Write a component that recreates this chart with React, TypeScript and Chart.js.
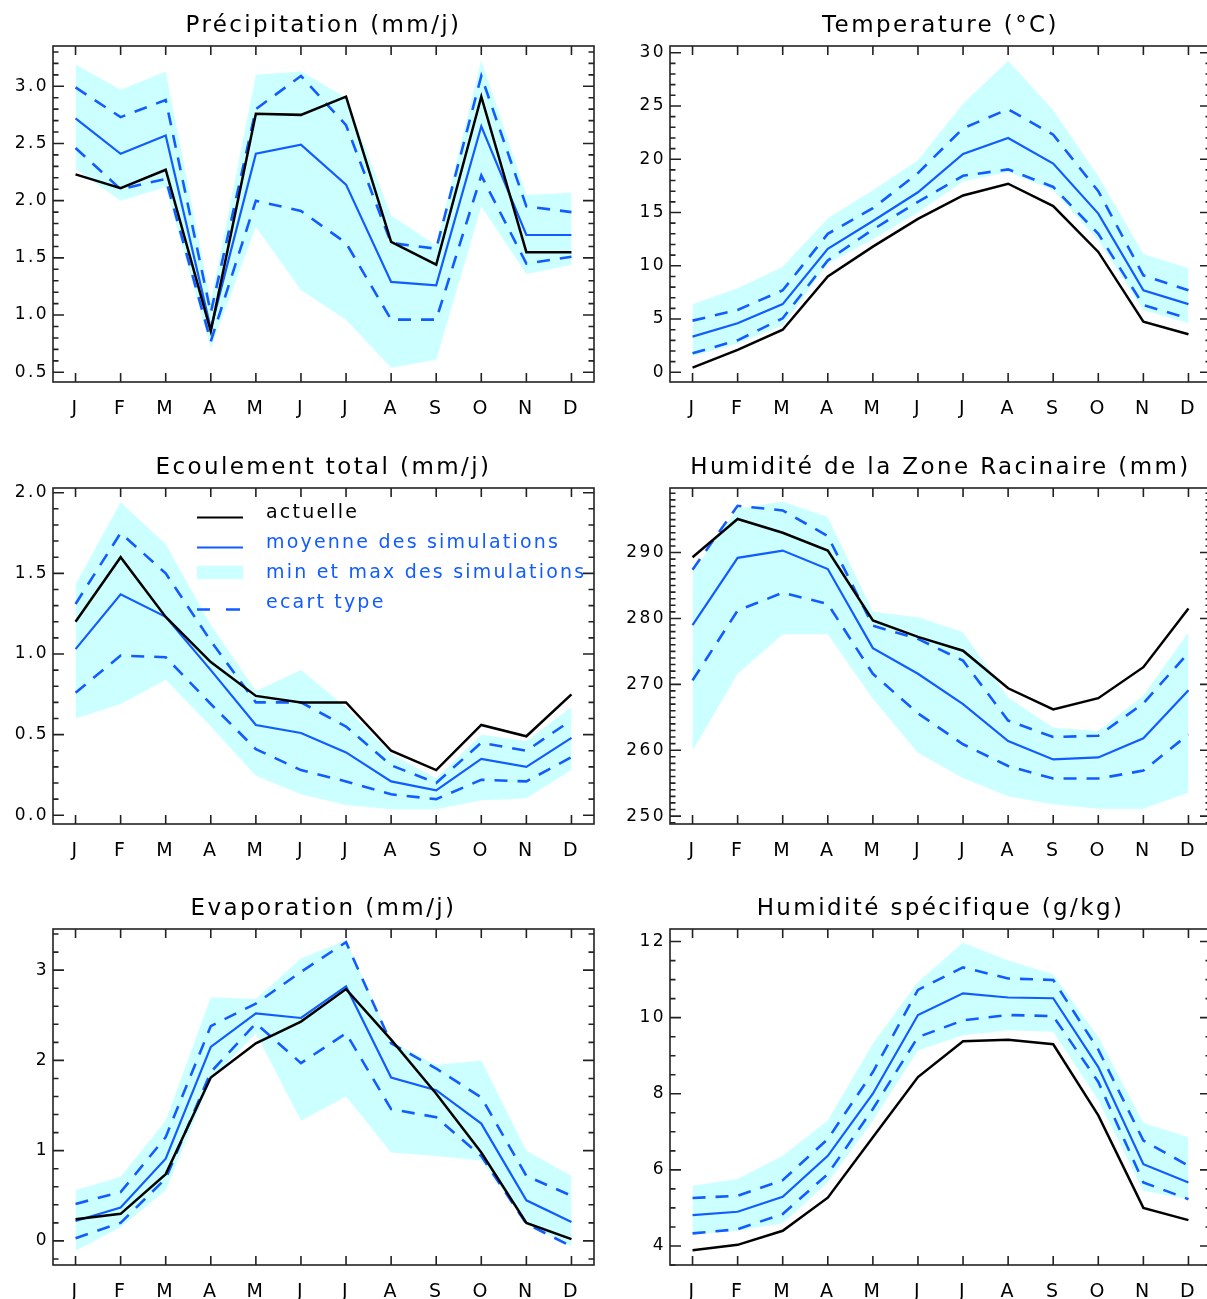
import React, { useEffect, useRef } from 'react';
import { Chart, registerables } from 'chart.js';

Chart.register(...registerables);

const MONTHS = ['J', 'F', 'M', 'A', 'M', 'J', 'J', 'A', 'S', 'O', 'N', 'D'];

// Précipitation (mm/j)
const PRECIP_ACTUAL = [2.23, 2.11, 2.27, 0.86, 2.76, 2.75, 2.91, 1.64, 1.44, 2.91, 1.55, 1.55];
const PRECIP_MEAN = [2.72, 2.41, 2.57, 0.88, 2.41, 2.49, 2.14, 1.29, 1.26, 2.65, 1.70, 1.70];
const PRECIP_STD_UP = [2.99, 2.73, 2.88, 1.02, 2.80, 3.09, 2.66, 1.63, 1.58, 3.09, 1.95, 1.90];
const PRECIP_STD_DOWN = [2.46, 2.10, 2.19, 0.77, 2.0, 1.91, 1.63, 0.96, 0.96, 2.22, 1.45, 1.51];
const PRECIP_MAX = [3.19, 2.97, 3.13, 1.12, 3.10, 3.13, 2.90, 1.87, 1.61, 3.23, 2.05, 2.07];
const PRECIP_MIN = [2.28, 2.0, 2.12, 0.71, 1.77, 1.22, 0.96, 0.54, 0.61, 1.95, 1.36, 1.44];

// Temperature (°C)
const TEMP_ACTUAL = [0.44, 2.1, 4.0, 9.0, 11.8, 14.4, 16.6, 17.7, 15.6, 11.3, 4.75, 3.57];
const TEMP_MEAN = [3.35, 4.6, 6.4, 11.6, 14.2, 16.9, 20.5, 22.0, 19.6, 14.9, 7.7, 6.4];
const TEMP_STD_UP = [4.85, 5.85, 7.7, 13.0, 15.4, 18.7, 22.9, 24.7, 22.3, 17.0, 9.1, 7.7];
const TEMP_STD_DOWN = [1.78, 3.0, 5.07, 10.5, 13.4, 16.0, 18.45, 19.05, 17.4, 13.0, 6.3, 5.07];
const TEMP_MAX = [6.4, 7.9, 9.9, 14.45, 17.1, 19.9, 25.2, 29.25, 24.6, 18.4, 11.1, 9.76];
const TEMP_MIN = [1.5, 2.7, 4.4, 10.2, 12.5, 15.0, 17.9, 18.8, 17.1, 12.4, 5.85, 4.6];

// Ecoulement total (mm/j)
const RUNOFF_ACTUAL = [1.20, 1.60, 1.23, 0.95, 0.74, 0.70, 0.70, 0.40, 0.28, 0.56, 0.49, 0.75];
const RUNOFF_MEAN = [1.03, 1.37, 1.23, 0.90, 0.56, 0.51, 0.39, 0.21, 0.155, 0.35, 0.30, 0.48];
const RUNOFF_STD_UP = [1.31, 1.75, 1.50, 1.08, 0.70, 0.70, 0.55, 0.31, 0.20, 0.45, 0.40, 0.59];
const RUNOFF_STD_DOWN = [0.76, 0.99, 0.98, 0.69, 0.41, 0.28, 0.21, 0.13, 0.10, 0.22, 0.21, 0.36];
const RUNOFF_MAX = [1.43, 1.94, 1.68, 1.18, 0.77, 0.90, 0.67, 0.38, 0.23, 0.50, 0.46, 0.67];
const RUNOFF_MIN = [0.60, 0.69, 0.84, 0.55, 0.245, 0.13, 0.064, 0.037, 0.037, 0.093, 0.106, 0.28];

// Humidité de la Zone Racinaire (mm)
const ROOT_ACTUAL = [289.3, 295.1, 293.0, 290.3, 279.7, 277.2, 275.1, 269.4, 266.2, 267.9, 272.6, 281.5];
const ROOT_MEAN = [279.0, 289.2, 290.3, 287.5, 275.5, 271.6, 267.0, 261.4, 258.6, 258.9, 261.8, 269.1];
const ROOT_STD_UP = [287.4, 297.1, 296.4, 292.5, 278.9, 276.9, 273.6, 264.5, 262.0, 262.2, 267.1, 274.8];
const ROOT_STD_DOWN = [270.6, 281.2, 283.9, 282.2, 271.6, 265.6, 260.9, 257.6, 255.7, 255.7, 256.9, 262.4];
const ROOT_MAX = [287.0, 296.7, 297.7, 295.4, 281.0, 280.2, 277.9, 268.0, 263.4, 262.9, 268.3, 277.9];
const ROOT_MIN = [259.9, 271.6, 277.6, 277.6, 267.8, 259.6, 255.8, 253.0, 251.8, 251.1, 251.1, 253.6];

// Evaporation (mm/j)
const EVAP_ACTUAL = [0.24, 0.30, 0.74, 1.81, 2.19, 2.43, 2.79, 2.23, 1.63, 0.98, 0.20, 0.02];
const EVAP_MEAN = [0.22, 0.37, 0.91, 2.15, 2.52, 2.47, 2.82, 1.81, 1.67, 1.30, 0.45, 0.21];
const EVAP_STD_UP = [0.41, 0.54, 1.15, 2.38, 2.63, 2.98, 3.31, 2.19, 1.91, 1.59, 0.72, 0.50];
const EVAP_STD_DOWN = [0.03, 0.20, 0.69, 1.87, 2.41, 1.97, 2.30, 1.46, 1.37, 0.94, 0.19, -0.06];
const EVAP_MAX = [0.56, 0.71, 1.33, 2.70, 2.68, 3.13, 3.33, 2.21, 1.95, 2.0, 1.0, 0.72];
const EVAP_MIN = [-0.11, 0.15, 0.56, 1.78, 2.30, 1.33, 1.60, 0.98, 0.94, 0.89, 0.19, -0.06];

// Humidité spécifique (g/kg)
const HUM_ACTUAL = [3.89, 4.03, 4.40, 5.27, 6.86, 8.44, 9.38, 9.42, 9.30, 7.43, 5.0, 4.68];
const HUM_MEAN = [4.81, 4.90, 5.29, 6.37, 8.0, 10.07, 10.64, 10.53, 10.51, 8.70, 6.15, 5.67];
const HUM_STD_UP = [5.26, 5.32, 5.73, 6.81, 8.57, 10.73, 11.32, 11.03, 10.99, 9.16, 6.77, 6.11];
const HUM_STD_DOWN = [4.33, 4.44, 4.84, 5.89, 7.60, 9.49, 9.93, 10.07, 10.04, 8.31, 5.67, 5.23];
const HUM_MAX = [5.58, 5.76, 6.37, 7.30, 9.32, 10.94, 11.97, 11.50, 11.14, 9.49, 7.23, 6.86];
const HUM_MIN = [4.30, 4.40, 4.60, 5.67, 7.30, 9.14, 9.54, 9.67, 9.63, 7.82, 5.45, 5.23];

const LEGEND_LABELS = ['actuelle', 'moyenne des simulations', 'min et max des simulations', 'ecart type'];

const FONT = "'DejaVu Sans', sans-serif";
const BLUE = 'rgb(18, 92, 255)';
const CYAN = 'rgb(204, 255, 255)';
const FRAME = '#222';

type Panel = {
  title: string;
  actual: number[];
  mean: number[];
  up: number[];
  down: number[];
  max: number[];
  min: number[];
  yMin: number;
  yMax: number;
  step: number;
  minor: number;
  decimals: number;
  legend?: boolean;
  left: number;
  top: number;
};

const PANELS: Panel[] = [
  { title: 'Précipitation (mm/j)', actual: PRECIP_ACTUAL, mean: PRECIP_MEAN, up: PRECIP_STD_UP, down: PRECIP_STD_DOWN, max: PRECIP_MAX, min: PRECIP_MIN, yMin: 0.415, yMax: 3.352, step: 0.5, minor: 0.1, decimals: 1, left: 0, top: 0 },
  { title: 'Temperature (°C)', actual: TEMP_ACTUAL, mean: TEMP_MEAN, up: TEMP_STD_UP, down: TEMP_STD_DOWN, max: TEMP_MAX, min: TEMP_MIN, yMin: -0.91, yMax: 30.63, step: 5, minor: 1, decimals: 0, left: 617, top: 0 },
  { title: 'Ecoulement total (mm/j)', actual: RUNOFF_ACTUAL, mean: RUNOFF_MEAN, up: RUNOFF_STD_UP, down: RUNOFF_STD_DOWN, max: RUNOFF_MAX, min: RUNOFF_MIN, yMin: -0.054, yMax: 2.029, step: 0.5, minor: 0.1, decimals: 1, legend: true, left: 0, top: 442 },
  { title: 'Humidité de la Zone Racinaire (mm)', actual: ROOT_ACTUAL, mean: ROOT_MEAN, up: ROOT_STD_UP, down: ROOT_STD_DOWN, max: ROOT_MAX, min: ROOT_MIN, yMin: 248.8, yMax: 299.8, step: 10, minor: 1, decimals: 0, left: 617, top: 442 },
  { title: 'Evaporation (mm/j)', actual: EVAP_ACTUAL, mean: EVAP_MEAN, up: EVAP_STD_UP, down: EVAP_STD_DOWN, max: EVAP_MAX, min: EVAP_MIN, yMin: -0.267, yMax: 3.456, step: 1, minor: 0.2, decimals: 0, left: 0, top: 883 },
  { title: 'Humidité spécifique (g/kg)', actual: HUM_ACTUAL, mean: HUM_MEAN, up: HUM_STD_UP, down: HUM_STD_DOWN, max: HUM_MAX, min: HUM_MIN, yMin: 3.5, yMax: 12.33, step: 2, minor: 0.5, decimals: 0, left: 617, top: 883 },
];

const W = 600;
const H = 420;

function makeFramePlugin(p: Panel) {
  return {
    id: 'idlFrame',
    beforeDraw(chart: any) {
      chart.ctx.letterSpacing = '2.4px';
    },
    afterDatasetsDraw(chart: any) {
      const { ctx, chartArea: a, scales } = chart;
      const x = scales.x;
      const y = scales.y;
      ctx.save();
      ctx.strokeStyle = FRAME;
      ctx.lineWidth = 1.6;
      ctx.strokeRect(a.left, a.top, a.right - a.left, a.bottom - a.top);
      ctx.beginPath();
      x.ticks.forEach((_t: any, i: number) => {
        const px = x.getPixelForTick(i);
        ctx.moveTo(px, a.bottom);
        ctx.lineTo(px, a.bottom - 9);
        ctx.moveTo(px, a.top);
        ctx.lineTo(px, a.top + 9);
      });
      const majors: number[] = y.ticks.map((t: any) => t.value);
      majors.forEach((v) => {
        const py = y.getPixelForValue(v);
        ctx.moveTo(a.left, py);
        ctx.lineTo(a.left + 11, py);
        ctx.moveTo(a.right, py);
        ctx.lineTo(a.right - 11, py);
      });
      const k0 = Math.ceil(y.min / p.minor - 1e-6);
      for (let k = k0; k * p.minor <= y.max + 1e-9; k++) {
        const v = k * p.minor;
        if (majors.some((m) => Math.abs(m - v) < p.minor / 10)) continue;
        const py = y.getPixelForValue(v);
        ctx.moveTo(a.left, py);
        ctx.lineTo(a.left + 5.5, py);
        ctx.moveTo(a.right, py);
        ctx.lineTo(a.right - 5.5, py);
      }
      ctx.stroke();
      ctx.restore();
    },
  };
}

const legendPlugin = {
  id: 'idlLegend',
  afterDraw(chart: any) {
    const { ctx, chartArea: a } = chart;
    const L = a.left;
    const T = a.top;
    ctx.save();
    ctx.letterSpacing = '2.2px';
    ctx.font = `19px ${FONT}`;
    ctx.textBaseline = 'alphabetic';
    ctx.textAlign = 'left';
    // actuelle
    ctx.strokeStyle = '#000';
    ctx.lineWidth = 2;
    ctx.beginPath();
    ctx.moveTo(L + 144, T + 29.5);
    ctx.lineTo(L + 190, T + 29.5);
    ctx.stroke();
    ctx.fillStyle = '#000';
    ctx.fillText(LEGEND_LABELS[0], L + 213, T + 29.7);
    // moyenne
    ctx.strokeStyle = BLUE;
    ctx.beginPath();
    ctx.moveTo(L + 144, T + 59.5);
    ctx.lineTo(L + 190, T + 59.5);
    ctx.stroke();
    ctx.fillStyle = BLUE;
    ctx.fillText(LEGEND_LABELS[1], L + 213, T + 59.7);
    // min et max
    ctx.fillStyle = CYAN;
    ctx.fillRect(L + 144, T + 77.7, 46, 13.3);
    ctx.fillStyle = BLUE;
    ctx.fillText(LEGEND_LABELS[2], L + 213, T + 90);
    // ecart type
    ctx.lineWidth = 2.5;
    ctx.beginPath();
    ctx.moveTo(L + 144, T + 121.5);
    ctx.lineTo(L + 157, T + 121.5);
    ctx.moveTo(L + 173, T + 121.5);
    ctx.lineTo(L + 187, T + 121.5);
    ctx.stroke();
    ctx.fillText(LEGEND_LABELS[3], L + 213, T + 120);
    ctx.restore();
  },
};

function ChartPanel({ p }: { p: Panel }) {
  const ref = useRef<HTMLCanvasElement>(null);
  useEffect(() => {
    const line = (data: number[], color: string, width: number, dash?: number[]) => ({
      data,
      borderColor: color,
      borderWidth: width,
      borderDash: dash || [],
      pointRadius: 0,
      fill: false,
      tension: 0,
    });
    const chart = new Chart(ref.current as HTMLCanvasElement, {
      type: 'line',
      data: {
        labels: MONTHS,
        datasets: [
          line(p.actual, '#000', 2.5),
          line(p.mean, BLUE, 2.2),
          line(p.up, BLUE, 2.6, [13, 10]),
          line(p.down, BLUE, 2.6, [13, 10]),
          { data: p.max, borderWidth: 0, borderColor: 'rgba(0,0,0,0)', backgroundColor: CYAN, pointRadius: 0, fill: '+1', tension: 0 },
          { data: p.min, borderWidth: 0, borderColor: 'rgba(0,0,0,0)', pointRadius: 0, fill: false, tension: 0 },
        ],
      } as any,
      options: {
        responsive: false,
        animation: false,
        devicePixelRatio: 1,
        events: [],
        layout: { padding: { left: 0, right: 6, top: 0, bottom: 0 } },
        plugins: {
          legend: { display: false },
          tooltip: { enabled: false },
          filler: { drawTime: 'beforeDatasetsDraw' },
          title: {
            display: true,
            text: p.title,
            fullSize: false,
            color: '#000',
            font: { family: FONT, size: 23, weight: 'normal', lineHeight: 1.2 },
            padding: { top: 12, bottom: 6.4 },
          },
        },
        scales: {
          x: {
            type: 'category',
            offset: true,
            grid: { display: false, drawTicks: false },
            border: { display: false },
            ticks: { color: '#000', font: { family: FONT, size: 19 }, padding: 16, autoSkip: false, maxRotation: 0, minRotation: 0 },
            afterFit: (s: any) => { s.height = 38; },
          },
          y: {
            type: 'linear',
            min: p.yMin,
            max: p.yMax,
            grid: { display: false, drawTicks: false },
            border: { display: false },
            ticks: {
              stepSize: p.step,
              includeBounds: false,
              color: '#000',
              font: { family: FONT, size: 17 },
              padding: 4,
              callback: (v: any) => Number(v).toFixed(p.decimals),
            },
            afterFit: (s: any) => { s.width = 53; },
          },
        },
      } as any,
      plugins: p.legend ? [makeFramePlugin(p), legendPlugin] : [makeFramePlugin(p)],
    });
    return () => chart.destroy();
  }, [p]);
  return (
    <div style={{ position: 'absolute', left: p.left, top: p.top, width: W, height: H }}>
      <canvas ref={ref} width={W} height={H} style={{ display: 'block', width: W, height: H }} />
    </div>
  );
}

export default function App() {
  return (
    <div style={{ position: 'absolute', left: 0, top: 0, width: 1207, height: 1299, overflow: 'hidden', background: '#fff' }}>
      {PANELS.map((p, i) => (
        <ChartPanel key={i} p={p} />
      ))}
    </div>
  );
}
